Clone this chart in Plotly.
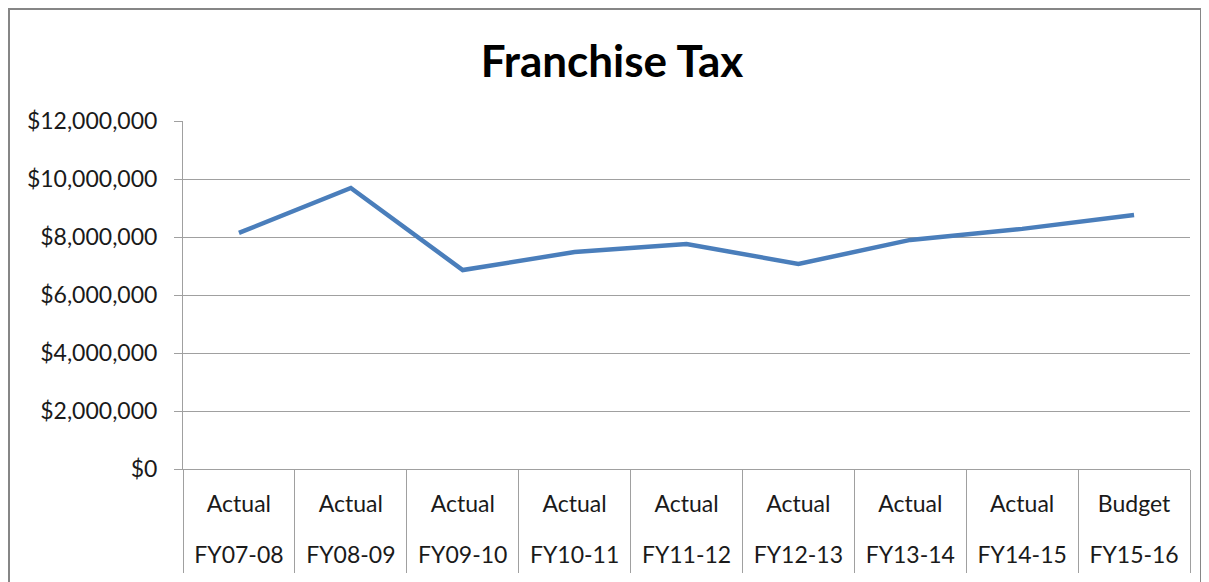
import plotly.graph_objects as go

# Data
periods = ["FY07-08", "FY08-09", "FY09-10", "FY10-11", "FY11-12",
           "FY12-13", "FY13-14", "FY14-15", "FY15-16"]
kinds = ["Actual", "Actual", "Actual", "Actual", "Actual",
         "Actual", "Actual", "Actual", "Budget"]
franchise_tax = [8140000, 9690000, 6860000, 7480000, 7760000,
                 7070000, 7900000, 8280000, 8760000]
y_ticks = [0, 2000000, 4000000, 6000000, 8000000, 10000000, 12000000]

W, H = 1209, 582
OFF = 8  # page body margin
# plot-area edges in screen pixels
SL, SR, ST, SB = 183, 1190, 121, 469
L, T = SL - OFF, ST - OFF
R, B = W - (SR - OFF), H - (SB - OFF)
pw, ph = SR - SL, SB - ST

def px_x(x):
    return (x - SL) / pw

def px_y(y):
    return (SB - y) / ph

FONT = "Lato"
TXT = "#1a1a1a"
GRID = "#a0a0a0"

fig = go.Figure()
# helper (invisible) traces so the overlay axes know the categories
for ax in ["x2", "x3"]:
    fig.add_trace(go.Scatter(
        x=periods, y=franchise_tax, xaxis=ax, mode="lines",
        line=dict(width=0, color="rgba(0,0,0,0)"),
        hoverinfo="skip", showlegend=False,
    ))
fig.add_trace(go.Scatter(
    x=periods,
    y=franchise_tax,
    mode="lines",
    line=dict(color="#4a7ebb", width=4.5),
    hoverinfo="skip",
    showlegend=False,
))

common_x = dict(
    type="category", showgrid=False, zeroline=False,
    automargin=False, range=[-0.5, 8.5],
    tickfont=dict(family=FONT, size=23, color=TXT),
)

fig.update_layout(
    width=W, height=H,
    margin=dict(l=L, r=R, t=T, b=B, autoexpand=False),
    paper_bgcolor="white",
    plot_bgcolor="white",
    font=dict(family=FONT, color=TXT, size=23),
    title=dict(
        text="<b>Franchise Tax</b>",
        x=(612 - OFF) / W, xref="container", xanchor="center",
        y=1 - 54 / H, yref="container", yanchor="middle",
        font=dict(family=FONT, size=44, color="#000000"),
    ),
    xaxis=dict(
        **common_x,
        showline=True, linecolor=GRID, linewidth=1,
        ticks="",
        tickvals=periods, ticktext=kinds,
        ticklabelstandoff=14,
    ),
    xaxis2=dict(
        **common_x,
        overlaying="x", side="bottom", anchor="y",
        showline=False, ticks="",
        tickvals=periods, ticktext=periods,
        ticklabelstandoff=70,
    ),
    xaxis3=dict(
        **common_x,
        overlaying="x", side="bottom", anchor="y",
        showline=False, showticklabels=False,
        ticks="outside", tickson="boundaries",
        ticklen=103, tickcolor=GRID, tickwidth=1,
    ),
    yaxis=dict(
        range=[0, 12000000],
        tickvals=y_ticks,
        tickformat="$,.0f",
        showgrid=True, gridcolor=GRID, gridwidth=1,
        showline=True, linecolor=GRID, linewidth=1,
        ticks="outside", ticklen=8, tickcolor=GRID,
        ticklabelstandoff=12, automargin=False,
        tickfont=dict(family=FONT, size=23, color=TXT),
        zeroline=False,
    ),
    shapes=[dict(
        type="rect", xref="paper", yref="paper",
        x0=px_x(OFF + 1), x1=px_x(1201), y0=px_y(600), y1=px_y(OFF + 1),
        line=dict(color="#868686", width=2),
        fillcolor="rgba(0,0,0,0)", layer="below",
    )],
)

fig.write_html("out.html")
